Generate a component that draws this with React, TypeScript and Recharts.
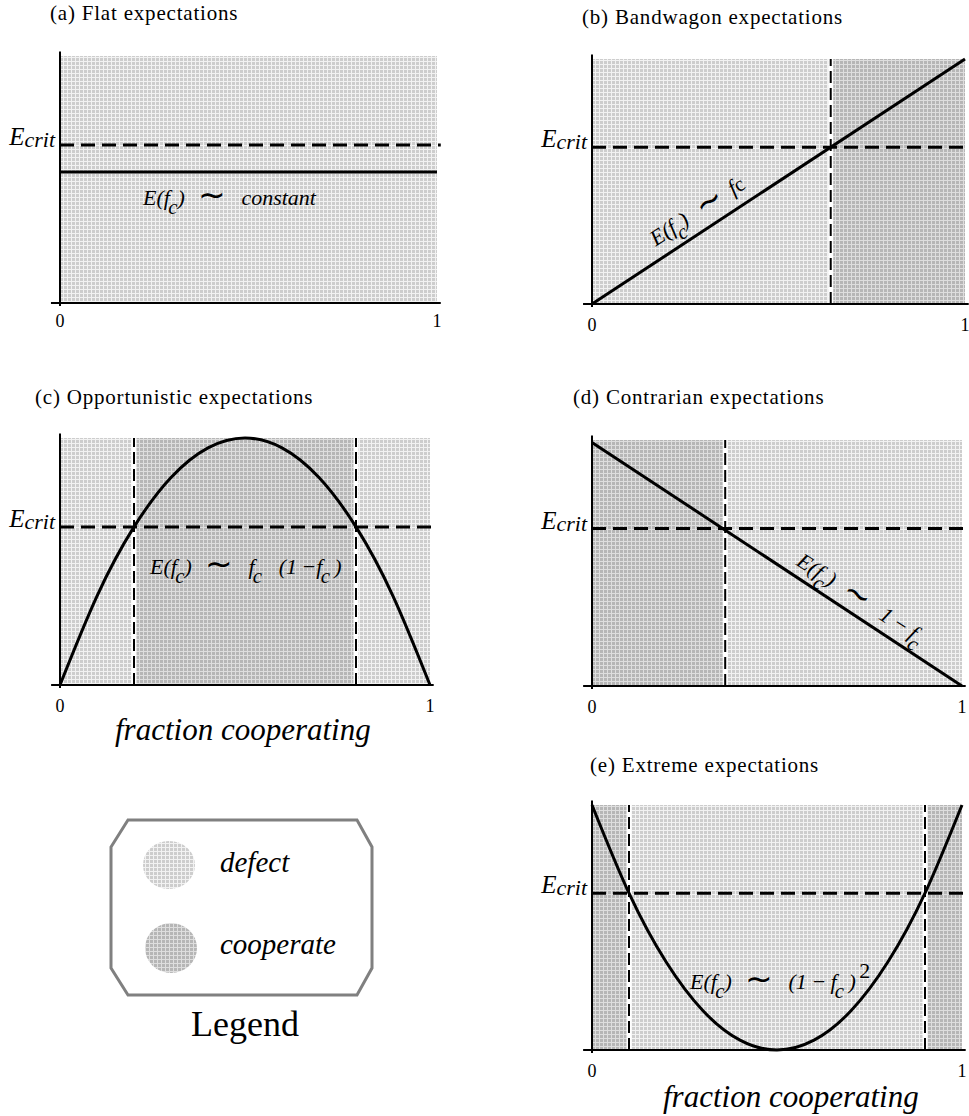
import { LineChart, Line, XAxis, YAxis, ReferenceArea, ReferenceLine } from "recharts";

const SERIF = '"Liberation Serif", "Times New Roman", serif';

// critical expectation level, shared by all panels
const ECRIT = 0.64;
const fracTicks = [0, 1];

// (a) flat
const flatX = [0, 1];
const flatY = [0.53, 0.53];
const flatRegions = [[0, 1, "defect"]];
const flatCross: number[] = [];

// (b) bandwagon
const bandX = [0, 1];
const bandY = [0, 1];
const bandRegions = [[0, 0.64, "defect"], [0.64, 1, "cooperate"]];
const bandCross = [0.64];

// (c) opportunistic
const oppX = [0, 0.1, 0.2, 0.3, 0.4, 0.5, 0.6, 0.7, 0.8, 0.9, 1];
const oppY = [0, 0.36, 0.64, 0.84, 0.96, 1, 0.96, 0.84, 0.64, 0.36, 0];
const oppRegions = [[0, 0.2, "defect"], [0.2, 0.8, "cooperate"], [0.8, 1, "defect"]];
const oppCross = [0.2, 0.8];

// (d) contrarian
const conX = [0, 1];
const conY = [0.99, 0];
const conRegions = [[0, 0.36, "cooperate"], [0.36, 1, "defect"]];
const conCross = [0.36];

// (e) extreme
const extX = [0, 0.1, 0.2, 0.3, 0.4, 0.5, 0.6, 0.7, 0.8, 0.9, 1];
const extY = [1, 0.64, 0.36, 0.16, 0.04, 0, 0.04, 0.16, 0.36, 0.64, 1];
const extRegions = [[0, 0.1, "cooperate"], [0.1, 0.9, "defect"], [0.9, 1, "cooperate"]];
const extCross = [0.1, 0.9];

function Patterns({ id }: { id: string }) {
  return (
    <defs>
      <pattern id={`defect-${id}`} width={4} height={4} patternUnits="userSpaceOnUse">
        <rect width={4} height={4} fill="#f2f2f2" />
        <rect width={3} height={3} fill="#cdcdcd" />
      </pattern>
      <pattern id={`cooperate-${id}`} width={4} height={4} patternUnits="userSpaceOnUse">
        <rect width={4} height={4} fill="#dedede" />
        <rect width={3} height={3} fill="#b6b6b6" />
      </pattern>
    </defs>
  );
}

const EcritTick = (props: any) => {
  const { x, y } = props;
  return (
    <text x={x} y={y} textAnchor="end" fontFamily={SERIF} fontStyle="italic" fill="#000">
      <tspan fontSize={25}>E</tspan>
      <tspan fontSize={22} dy={2}>crit</tspan>
    </text>
  );
};

function Panel({ id, box, xs, ys, regions, crossings, curve }: any) {
  const data = xs.map((x: number, i: number) => ({ x, y: ys[i] }));
  return (
    <div style={{ position: "absolute", left: box.L - 60, top: box.T - 10 }}>
      <LineChart
        width={box.R - box.L + 68}
        height={box.B - box.T + 50}
        data={data}
        margin={{ top: 10, right: 8, left: 10, bottom: 10 }}
      >
        <Patterns id={id} />
        <XAxis
          type="number"
          dataKey="x"
          domain={[0, 1]}
          ticks={fracTicks}
          axisLine={false}
          tickLine={false}
          tickSize={0}
          tickMargin={box.tm}
          height={30}
          tick={{ fontSize: 18, fill: "#000", fontFamily: SERIF }}
        />
        <YAxis
          type="number"
          domain={[0, 1]}
          ticks={[ECRIT]}
          width={50}
          axisLine={false}
          tickLine={false}
          tickSize={0}
          tickMargin={5}
          tick={(p: any) => <EcritTick {...p} />}
        />
        {regions.map((r: any, i: number) => (
          <ReferenceArea
            key={`r${i}`}
            x1={r[0]}
            x2={r[1]}
            y1={0}
            y2={1}
            fill={`url(#${r[2]}-${id})`}
            fillOpacity={1}
            stroke="none"
          />
        ))}
        {crossings.map((c: number, i: number) => (
          <ReferenceLine key={`w${i}`} x={c} stroke="#fff" strokeWidth={5} />
        ))}
        {crossings.map((c: number, i: number) => (
          <ReferenceLine key={`d${i}`} x={c} stroke="#000" strokeWidth={2} strokeDasharray="12 5" />
        ))}
        <ReferenceLine
          segment={[{ x: 0, y: ECRIT }, { x: 1.01, y: ECRIT }]}
          stroke="#000"
          strokeWidth={3}
          strokeDasharray="14 7"
          ifOverflow="visible"
        />
        <Line
          dataKey="y"
          type={curve}
          stroke="#000"
          strokeWidth={3}
          dot={false}
          activeDot={false}
          isAnimationActive={false}
        />
        <ReferenceLine
          segment={[{ x: -0.024, y: 0 }, { x: 1.01, y: 0 }]}
          stroke="#000"
          strokeWidth={2}
          ifOverflow="visible"
        />
        <ReferenceLine
          segment={[{ x: 0, y: -0.012 }, { x: 0, y: 1.018 }]}
          stroke="#000"
          strokeWidth={2}
          ifOverflow="visible"
        />
      </LineChart>
    </div>
  );
}

const Sub = ({ children }: any) => (
  <span style={{ position: "relative", top: "0.45em", fontSize: "0.95em", marginLeft: "-0.08em" }}>{children}</span>
);
const Tilde = () => (
  <span style={{ fontStyle: "normal", fontSize: "1.5em", margin: "0 0.3em 0 0.4em", position: "relative", top: "0.05em" }}>∼</span>
);

function Txt({ left, base, size, italic, rot, spacing, children }: any) {
  const top = base - size * 0.8375;
  return (
    <div
      style={{
        position: "absolute",
        left,
        top,
        fontSize: size,
        lineHeight: 1,
        fontFamily: SERIF,
        fontStyle: italic ? "italic" : "normal",
        letterSpacing: spacing || 0,
        whiteSpace: "nowrap",
        color: "#000",
        transform: rot ? `rotate(${rot}deg)` : undefined,
        transformOrigin: `0px ${size * 0.8375}px`,
      }}
    >
      {children}
    </div>
  );
}

function LegendBox() {
  return (
    <svg width={300} height={260} style={{ position: "absolute", left: 90, top: 800 }}>
      <Patterns id="lg" />
      <polygon
        points="21,47 38,20 267,20 282,47 282,168 267,195 38,195 21,168"
        fill="#fff"
        stroke="#808080"
        strokeWidth={3}
      />
      <ellipse cx={79} cy={65} rx={26} ry={24} fill="url(#defect-lg)" />
      <ellipse cx={81} cy={148} rx={26} ry={25} fill="url(#cooperate-lg)" />
      <text x={130} y={72} fontFamily={SERIF} fontStyle="italic" fontSize={29}>defect</text>
      <text x={130} y={154} fontFamily={SERIF} fontStyle="italic" fontSize={29}>cooperate</text>
      <text x={155} y={236} textAnchor="middle" fontFamily={SERIF} fontSize={36}>Legend</text>
    </svg>
  );
}

export default function App() {
  return (
    <div
      style={{
        position: "absolute",
        left: 0,
        top: 0,
        width: 969,
        height: 1116,
        overflow: "hidden",
        background: "#fff",
        fontFamily: SERIF,
      }}
    >
      <Panel id="a" box={{ L: 60, R: 437, T: 56, B: 303, tm: 11 }} xs={flatX} ys={flatY} regions={flatRegions} crossings={flatCross} curve="linear" />
      <Panel id="b" box={{ L: 592, R: 965, T: 59, B: 304, tm: 14 }} xs={bandX} ys={bandY} regions={bandRegions} crossings={bandCross} curve="linear" />
      <Panel id="c" box={{ L: 60, R: 430, T: 438, B: 685, tm: 14 }} xs={oppX} ys={oppY} regions={oppRegions} crossings={oppCross} curve="natural" />
      <Panel id="d" box={{ L: 592, R: 962, T: 440, B: 686, tm: 14 }} xs={conX} ys={conY} regions={conRegions} crossings={conCross} curve="linear" />
      <Panel id="e" box={{ L: 592, R: 962, T: 805, B: 1050, tm: 14 }} xs={extX} ys={extY} regions={extRegions} crossings={extCross} curve="natural" />

      <Txt left={50} base={21} size={21} spacing={0.8}>(a) Flat expectations</Txt>
      <Txt left={582} base={25} size={21} spacing={0.8}>(b) Bandwagon expectations</Txt>
      <Txt left={35} base={405} size={21} spacing={0.8}>(c) Opportunistic expectations</Txt>
      <Txt left={573} base={405} size={21} spacing={0.8}>(d) Contrarian expectations</Txt>
      <Txt left={590} base={773} size={21} spacing={0.8}>(e) Extreme expectations</Txt>

      <Txt left={143} base={196} size={22} italic>
        E(f<Sub>c</Sub>)<Tilde />&nbsp;constant
      </Txt>
      <Txt left={651} base={239} size={22} italic rot={-33}>
        E(f<Sub>c</Sub>)<Tilde />f<span style={{ fontStyle: "normal", fontSize: "0.95em" }}>c</span>
      </Txt>
      <Txt left={150} base={565} size={22} italic>
        E(f<Sub>c</Sub>)<Tilde />&nbsp;f<Sub>c</Sub>&nbsp;&nbsp; (1&thinsp;−f<Sub>c</Sub>&thinsp;)
      </Txt>
      <Txt left={800} base={557} size={22} italic rot={33}>
        E(f<Sub>c</Sub>)<Tilde />&nbsp;1&thinsp;−&thinsp;f<Sub>c</Sub>
      </Txt>
      <Txt left={690} base={980} size={22} italic>
        E(f<Sub>c</Sub>)<Tilde />&nbsp;(1&thinsp;−&thinsp;f<Sub>c</Sub>&thinsp;)<span style={{ position: "relative", top: "-0.5em", fontStyle: "normal", marginLeft: "0.15em" }}>2</span>
      </Txt>

      <Txt left={115} base={740} size={31} italic>fraction cooperating</Txt>
      <Txt left={663} base={1107} size={31} italic>fraction cooperating</Txt>

      <LegendBox />
    </div>
  );
}
